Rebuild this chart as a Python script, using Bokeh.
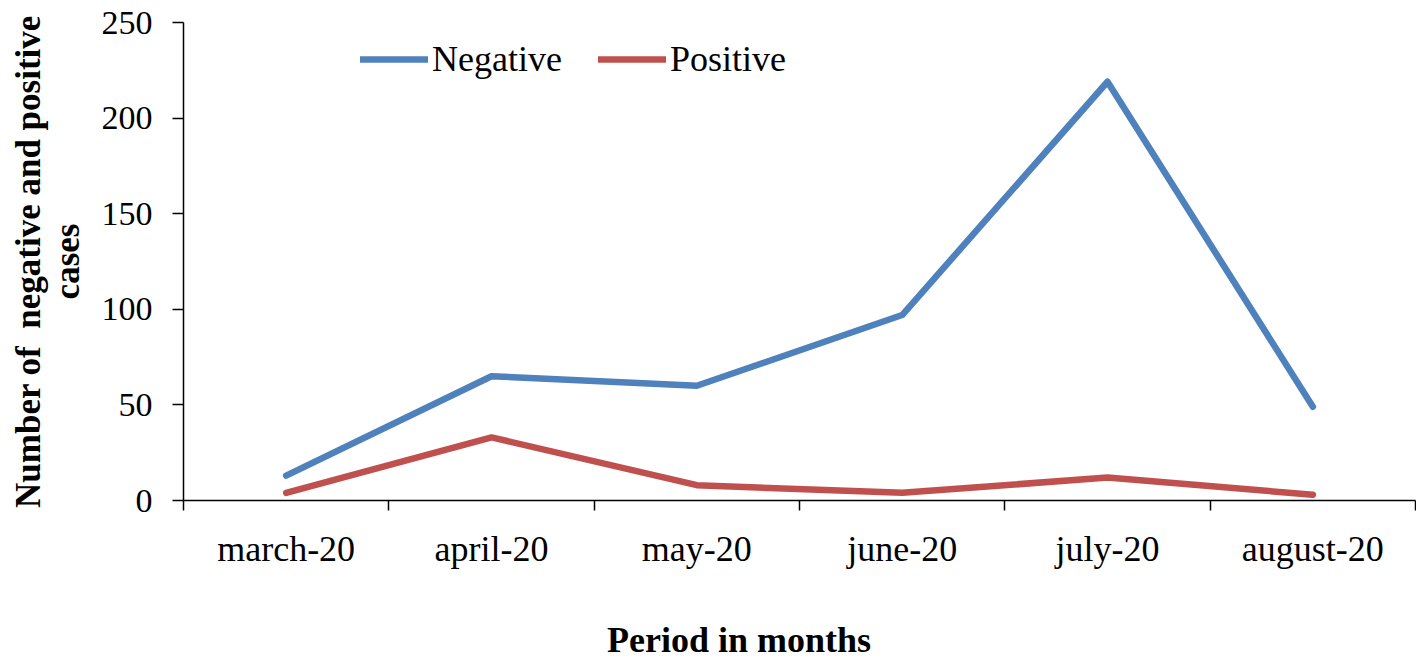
from bokeh.plotting import figure
from bokeh.models import Range1d, FixedTicker, Legend, LegendItem, Div
from bokeh.layouts import column
from bokeh.embed import file_html
from bokeh.resources import INLINE

months = ["march-20", "april-20", "may-20", "june-20", "july-20", "august-20"]
negative = [13, 65, 60, 97, 219, 49]
positive = [4, 33, 8, 4, 12, 3]
y_ticks = [0, 50, 100, 150, 200, 250]

xpos = [i + 0.5 for i in range(len(months))]

FONT = "Liberation Serif"

p = figure(width=1416, height=616, output_backend="svg", toolbar_location=None,
           x_range=Range1d(0, len(months)), y_range=Range1d(0, 250),
           min_border_left=183, min_border_right=1, min_border_top=22, min_border_bottom=116)
p.grid.visible = False
p.outline_line_color = None
p.background_fill_color = "white"
p.border_fill_color = "white"

r_neg = p.line(xpos, negative, line_color="#4F81BD", line_width=6.5, line_cap="round", line_join="round")
r_pos = p.line(xpos, positive, line_color="#C0504D", line_width=6.5, line_cap="round", line_join="round")

# x axis
xa = p.xaxis[0]
xa.ticker = FixedTicker(ticks=xpos, minor_ticks=list(range(len(months) + 1)))
xa.major_label_overrides = {x: m for x, m in zip(xpos, months)}
xa.major_tick_out = 0
xa.major_tick_in = 0
xa.minor_tick_out = 10
xa.minor_tick_in = 0
xa.minor_tick_line_color = "black"
xa.minor_tick_line_width = 1.5
xa.axis_line_color = "black"
xa.axis_line_width = 1.5
xa.major_label_text_font = FONT
xa.major_label_text_font_size = "36px"
xa.major_label_text_color = "black"
xa.major_label_standoff = 18

# y axis
ya = p.yaxis[0]
ya.ticker = FixedTicker(ticks=y_ticks)
ya.minor_tick_line_color = None
ya.major_tick_out = 11
ya.major_tick_in = 0
ya.major_tick_line_color = "black"
ya.major_tick_line_width = 1.5
ya.axis_line_color = "black"
ya.axis_line_width = 1.5
ya.major_label_text_font = FONT
ya.major_label_text_font_size = "34px"
ya.major_label_text_color = "black"
ya.major_label_standoff = 20
ya.axis_label = "Number of \u00a0negative and positive\ncases"
ya.axis_label_text_font = FONT
ya.axis_label_text_font_style = "bold"
ya.axis_label_text_font_size = "35px"
ya.axis_label_text_line_height = 1.0
ya.axis_label_text_color = "black"
ya.axis_label_standoff = 12

legend = Legend(items=[LegendItem(label="Negative", renderers=[r_neg]),
                       LegendItem(label="Positive", renderers=[r_pos])],
                orientation="horizontal", location=(177, 420),
                glyph_width=68, glyph_height=20, label_standoff=4, spacing=36,
                padding=0, margin=0, border_line_color=None, background_fill_alpha=0,
                label_text_font=FONT, label_text_font_size="36px", label_text_color="black")
p.add_layout(legend, "center")

# x axis title, below the chart and left of centre as in the reference
x_title = Div(text="Period in months", width=800, height=43,
              styles={"font-family": FONT, "font-weight": "bold", "font-size": "36px",
                      "color": "black", "padding-left": "602px", "line-height": "39px",
                      "white-space": "nowrap"})

open("out.html", "w").write(file_html(column(p, x_title), INLINE))
